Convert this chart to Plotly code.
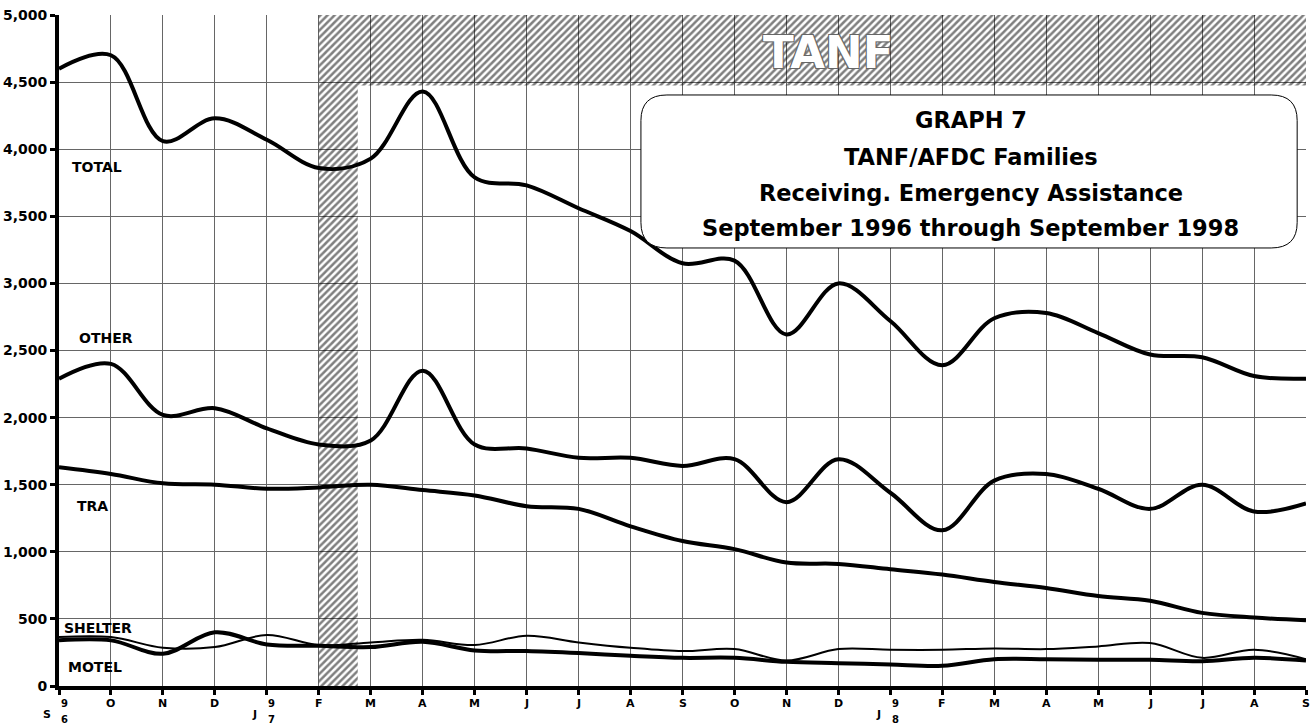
import plotly.graph_objects as go

# ---------------- data ----------------
month_letters = ["S", "O", "N", "D", "J", "F", "M", "A", "M", "J", "J", "A",
                 "S", "O", "N", "D", "J", "F", "M", "A", "M", "J", "J", "A", "S"]
month_index = list(range(len(month_letters)))
year_marks = {0: "6", 4: "7", 16: "8"}   # month index -> last digit of year ("9" above)

total = [4600, 4700, 4060, 4230, 4070, 3860, 3930, 4430, 3790, 3730, 3560, 3390,
         3150, 3170, 2620, 3000, 2720, 2390, 2740, 2780, 2630, 2470, 2450, 2310, 2290]
other = [2290, 2400, 2020, 2070, 1920, 1800, 1830, 2350, 1800, 1770, 1700, 1700,
         1640, 1690, 1370, 1690, 1440, 1160, 1530, 1580, 1470, 1320, 1500, 1300, 1360]
tra = [1630, 1580, 1510, 1500, 1470, 1480, 1500, 1460, 1420, 1340, 1320, 1190,
       1080, 1020, 920, 910, 870, 830, 775, 730, 670, 635, 545, 510, 490]
shelter = [365, 365, 285, 290, 380, 305, 325, 345, 305, 375, 325, 285,
           260, 275, 190, 275, 270, 270, 280, 275, 295, 320, 210, 270, 200]
motel = [340, 340, 240, 400, 310, 300, 290, 330, 265, 260, 245, 225,
         210, 210, 180, 170, 160, 150, 200, 200, 195, 195, 185, 210, 190]

y_ticks = list(range(0, 5001, 500))

# TANF period (hatched)
tanf_start = 5          # Feb 1997
tanf_band_end = 5.75
tanf_floor = 4475
y_max = 5000
x_max = 24

FONT = "DejaVu Sans"

fig = go.Figure()

# hatched TANF region
hx = [tanf_start, tanf_start, x_max, x_max, tanf_band_end, tanf_band_end, tanf_start]
hy = [0, y_max, y_max, tanf_floor, tanf_floor, 0, 0]
fig.add_trace(go.Scatter(
    x=hx, y=hy, mode="lines", fill="toself",
    line=dict(width=0, color="rgba(0,0,0,0)"),
    fillcolor="rgba(0,0,0,0)",
    fillpattern=dict(shape="/", size=5, solidity=0.5, fgcolor="black",
                     bgcolor="rgba(0,0,0,0)", fillmode="overlay"),
    hoverinfo="skip", showlegend=False))

series = [
    ("TOTAL", total, 4),
    ("OTHER", other, 4),
    ("TRA", tra, 4),
    ("MOTEL", motel, 4),
    ("SHELTER", shelter, 2),
]
for name, vals, w in series:
    fig.add_trace(go.Scatter(
        x=month_index, y=vals, mode="lines", name=name,
        line=dict(color="black", width=w, shape="spline", smoothing=1.0),
        showlegend=False))

annotations = []

# series labels
label_pos = [("TOTAL", 0.22, 3870), ("OTHER", 0.34, 2590), ("TRA", 0.31, 1340),
             ("SHELTER", 0.06, 432), ("MOTEL", 0.14, 142)]
for txt, lx, ly in label_pos:
    annotations.append(dict(x=lx, y=ly, xref="x", yref="y", text=txt, showarrow=False,
                            xanchor="left", yanchor="middle",
                            font=dict(family=FONT, size=14, color="black", weight="bold")))

# month tick labels
for i, m in zip(month_index, month_letters):
    if i in year_marks:
        annotations.append(dict(x=i, y=0, xref="x", yref="paper", text=m, showarrow=False,
                                xanchor="center", yanchor="middle", xshift=-12, yshift=-28,
                                font=dict(family=FONT, size=11, color="black", weight="bold")))
        annotations.append(dict(x=i, y=0, xref="x", yref="paper", text="9", showarrow=False,
                                xanchor="center", yanchor="middle", xshift=5, yshift=-17,
                                font=dict(family=FONT, size=10, color="black", weight="bold")))
        annotations.append(dict(x=i, y=0, xref="x", yref="paper", text=year_marks[i],
                                showarrow=False, xanchor="center", yanchor="middle",
                                xshift=5, yshift=-33,
                                font=dict(family=FONT, size=10, color="black", weight="bold")))
    else:
        annotations.append(dict(x=i, y=0, xref="x", yref="paper", text=m, showarrow=False,
                                xanchor="center", yanchor="middle", yshift=-17,
                                font=dict(family=FONT, size=11, color="black", weight="bold")))

# TANF label
annotations.append(dict(x=14.8, y=4720, xref="x", yref="y", text="TANF", showarrow=False,
                        xanchor="center", yanchor="middle",
                        font=dict(family=FONT, size=45, color="white", weight="bold",
                                  shadow="1px 1px 0 #666, -1px -1px 0 #666, 1px -1px 0 #666, -1px 1px 0 #666")))

# title box text
title_lines = ["GRAPH 7", "TANF/AFDC Families", "Receiving. Emergency Assistance",
               "September 1996 through September 1998"]
title_y = [4218, 3942, 3674, 3413]
for t, ty in zip(title_lines, title_y):
    annotations.append(dict(x=17.55, y=ty, xref="x", yref="y", text=t, showarrow=False,
                            xanchor="center", yanchor="middle",
                            font=dict(family=FONT, size=22.5, color="black", weight="bold")))

# rounded title box (data coords)
bx0, bx1, by0, by1 = 11.2, 23.83, 3264, 4404
rx, ry = 0.5, 190
path = (f"M {bx0+rx},{by1} L {bx1-rx},{by1} Q {bx1},{by1} {bx1},{by1-ry} "
        f"L {bx1},{by0+ry} Q {bx1},{by0} {bx1-rx},{by0} "
        f"L {bx0+rx},{by0} Q {bx0},{by0} {bx0},{by0+ry} "
        f"L {bx0},{by1-ry} Q {bx0},{by1} {bx0+rx},{by1} Z")
shapes = [dict(type="path", path=path, xref="x", yref="y", fillcolor="white",
               line=dict(color="black", width=1), layer="above")]

fig.update_layout(
    width=1312, height=725,
    margin=dict(l=59, r=6, t=15, b=39),
    paper_bgcolor="white", plot_bgcolor="white",
    annotations=annotations, shapes=shapes,
    xaxis=dict(range=[0, x_max], tickvals=month_index, showticklabels=False,
               showgrid=True, gridcolor="#666", gridwidth=1,
               showline=True, linecolor="black", linewidth=4,
               ticks="outside", ticklen=5, tickwidth=3, tickcolor="black",
               zeroline=False, automargin=False),
    yaxis=dict(range=[0, y_max], tickvals=y_ticks, tickformat=",",
               showgrid=True, gridcolor="#666", gridwidth=1,
               showline=True, linecolor="black", linewidth=4,
               ticks="outside", ticklen=5, tickwidth=3, tickcolor="black",
               tickfont=dict(family=FONT, size=14, color="black", weight="bold"),
               zeroline=False, automargin=False),
)

fig.write_html("out.html", config={"displayModeBar": False},
               post_script="document.body.style.margin='0';document.body.style.overflow='hidden';")
